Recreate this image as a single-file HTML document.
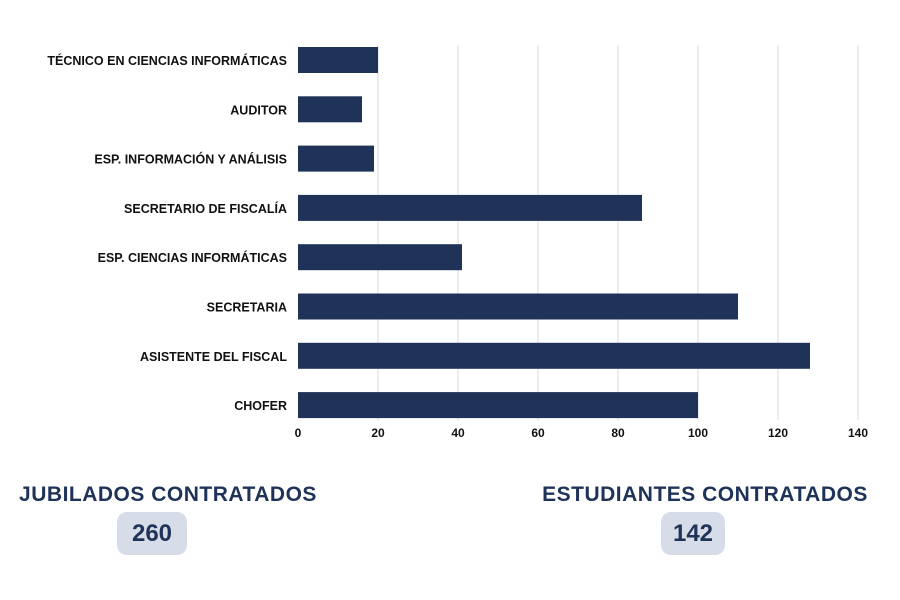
<!DOCTYPE html>
<html><head><meta charset="utf-8"><style>
body{margin:0;width:900px;height:600px;background:#fff;font-family:"Liberation Sans",sans-serif;overflow:hidden;position:relative}
.title{position:absolute;font-weight:bold;font-size:21px;color:#1f3359;letter-spacing:0.5px;white-space:nowrap;transform:translateX(-50%)}
.box{position:absolute;background:#d6dce8;border-radius:10px;color:#1f3359;font-weight:bold;font-size:24px;display:flex;align-items:center;justify-content:center}
</style></head><body>
<svg width="900" height="460" style="position:absolute;left:0;top:0" id="chart"></svg>
<div class="title" style="left:168px;top:483px">JUBILADOS CONTRATADOS</div>
<div class="box" style="left:117px;top:512px;width:70px;height:43px">260</div>
<div class="title" style="left:705px;top:483px">ESTUDIANTES CONTRATADOS</div>
<div class="box" style="left:661px;top:512px;width:64px;height:43px">142</div>
<script>
const categories=["TÉCNICO EN CIENCIAS INFORMÁTICAS","AUDITOR","ESP. INFORMACIÓN Y ANÁLISIS","SECRETARIO DE FISCALÍA","ESP. CIENCIAS INFORMÁTICAS","SECRETARIA","ASISTENTE DEL FISCAL","CHOFER"];
const values=[20,16,19,86,41,110,128,100];
const ticks=[0,20,40,60,80,100,120,140];
const svg=document.getElementById('chart');
const NS='http://www.w3.org/2000/svg';
const x=v=>298+v*4;
const y=i=>60+i*49.3;
function mk(t,a){const e=document.createElementNS(NS,t);for(const k in a)e.setAttribute(k,a[k]);svg.appendChild(e);return e;}
ticks.forEach(t=>{
 if(t>0){const g=mk('line',{x1:x(t),x2:x(t),y1:45,y2:420,stroke:'#d9d9d9','stroke-width':1});
 
 }
 const l=mk('text',{x:x(t),y:437,'text-anchor':'middle','font-size':12,'font-weight':'bold',fill:'#111'});
 l.textContent=t;
 
 
});
categories.forEach((c,i)=>{
 const b=mk('rect',{x:x(0),y:y(i)-13,width:x(values[i])-x(0),height:26,fill:'#1f3359'});
 
 
 const t=mk('text',{x:287,y:y(i)+5,'text-anchor':'end','font-size':12.5,'font-weight':'bold',fill:'#111'});
 t.textContent=c;
 
 
});
</script>
</body></html>
